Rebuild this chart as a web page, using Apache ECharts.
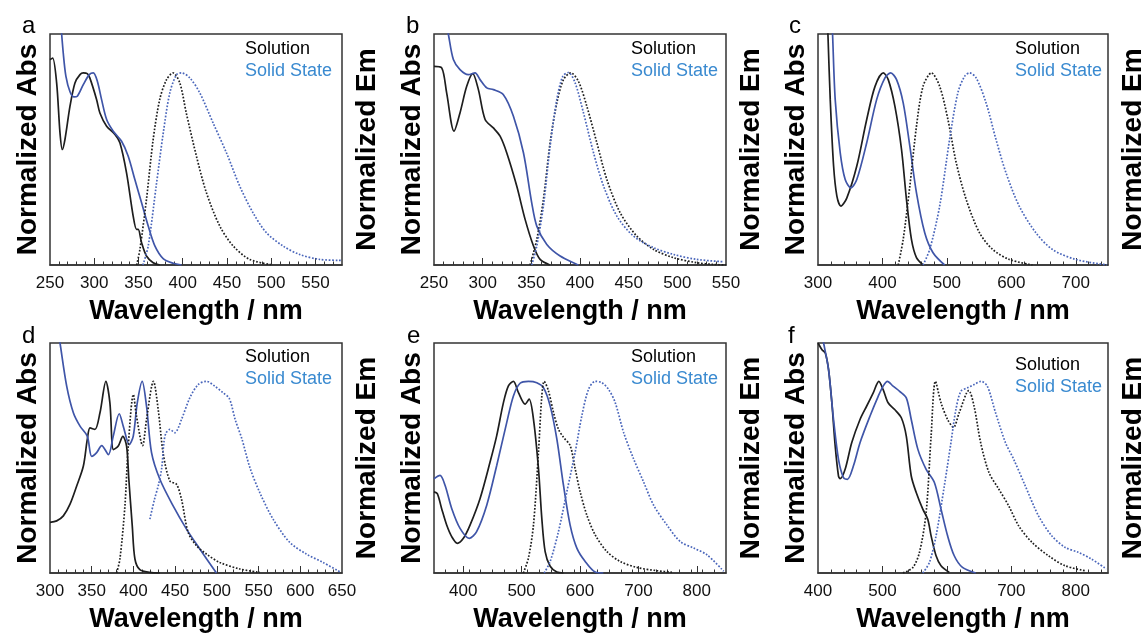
<!DOCTYPE html>
<html><head><meta charset="utf-8">
<script src="https://cdn.jsdelivr.net/npm/echarts@6/dist/echarts.min.js"></script>
<style>html,body{margin:0;padding:0;background:#fff}#c{width:1148px;height:634px}</style>
</head><body><div id="c"></div>
<script>
// ---------- tick labels ----------
const labelsA = [250,300,350,400,450,500,550];
const labelsB = [250,300,350,400,450,500,550];
const labelsC = [300,400,500,600,700];
const labelsD = [300,350,400,450,500,550,600,650];
const labelsE = [400,500,600,700,800];
const labelsF = [400,500,600,700,800];

// ---------- panel a ----------
const aAbsSolution = [[250,1.067],[253,1.075],[257.5,0.946],[261.3,0.686],[263.9,0.60],[266.9,0.652],[272.6,0.825],[278.2,0.946],[283.9,0.989],[287.6,0.998],[292.1,0.994],[295,0.972],[302.7,0.859],[306.4,0.79],[314,0.721],[323.4,0.678],[329,0.635],[336.5,0.479],[344,0.254],[347.8,0.185],[349.7,0.185],[353.5,0.116],[359,0.047],[366.6,0.012],[374,0]];
const aAbsSolid = [[262,1.27],[265,1.10],[268,0.98],[272.6,0.90],[277.1,0.873],[280.9,0.877],[287.6,0.937],[294.4,0.989],[299,0.998],[303.5,0.954],[308.3,0.859],[314,0.756],[321.5,0.695],[330.9,0.643],[338.4,0.565],[345.9,0.444],[353.5,0.323],[361,0.202],[368.5,0.099],[377.9,0.033],[389.2,0.009],[398.6,0]];
const aEmSolution = [[348,0],[351.6,0.081],[359,0.34],[366.6,0.652],[374,0.86],[381.7,0.963],[389,0.998],[396.7,0.946],[404,0.79],[415.5,0.565],[426.8,0.375],[441.9,0.202],[457,0.099],[475.7,0.029],[502,0]];
const aEmSolid = [[355,0],[361,0.099],[370,0.41],[378,0.686],[385.4,0.894],[393,0.989],[398.6,0.998],[408,0.972],[419.3,0.894],[434.3,0.738],[449.4,0.583],[464.4,0.41],[479.5,0.271],[494.5,0.168],[513.3,0.099],[532,0.055],[554.7,0.029],[579,0.024]];

// ---------- panel b ----------
const bAbsSolution = [[250,1.032],[257.9,1.024],[263,0.894],[270.6,0.695],[276.7,0.79],[283.6,0.928],[289.8,0.994],[295.6,0.911],[302.5,0.756],[311,0.712],[317.9,0.669],[324.7,0.583],[335,0.41],[343.6,0.237],[352.2,0.099],[359,0.029],[369,0]];
const bAbsSolid = [[261,1.29],[264.7,1.2],[269.9,1.067],[276.7,1.015],[285.3,0.989],[292.2,0.998],[297.3,0.963],[304.2,0.92],[311,0.911],[321.3,0.885],[331.6,0.773],[341.9,0.583],[350.4,0.323],[355.6,0.202],[365.9,0.107],[379.6,0.047],[398.4,0]];
const bEmSolution = [[348.7,0],[355.6,0.133],[362.4,0.34],[369.3,0.635],[376.2,0.842],[383,0.963],[390.6,0.998],[398.4,0.954],[407,0.825],[417.3,0.635],[427.6,0.444],[441.3,0.271],[458.4,0.15],[475.6,0.081],[496,0.038],[520,0.012],[537,0.003],[550,0]];
const bEmSolid = [[350.4,0],[355.6,0.099],[362.4,0.306],[369.3,0.617],[376.2,0.86],[382.3,0.98],[388.2,1.0],[395,0.946],[403.6,0.79],[413.9,0.583],[424.2,0.41],[437.9,0.254],[455,0.15],[475.6,0.09],[496,0.055],[520,0.029],[547.6,0.017]];

// ---------- panel c ----------
const cAbsSolution = [[313.5,1.4],[315.4,1.2],[319,0.859],[324.2,0.514],[329.3,0.358],[335.5,0.306],[344.8,0.349],[360.2,0.514],[375.6,0.756],[388.5,0.928],[401.3,0.998],[409,0.963],[419.3,0.825],[429.6,0.6],[437.3,0.34],[445,0.133],[452.8,0.038],[463,0]];
const cAbsSolid = [[320.5,1.37],[322.6,1.2],[326.7,0.859],[334.5,0.583],[342.2,0.444],[351,0.401],[360.2,0.444],[375.6,0.635],[391,0.859],[403.9,0.972],[412.7,0.998],[421.9,0.963],[432.2,0.842],[442.5,0.617],[452.8,0.375],[465.6,0.168],[478.5,0.064],[496.5,0]];
const cEmSolution = [[424.5,0],[432.2,0.133],[442.5,0.41],[452.8,0.721],[463,0.928],[476,0.998],[488.8,0.928],[501.6,0.756],[514.5,0.531],[530,0.34],[550.5,0.168],[571,0.081],[596.8,0.029],[632.8,0]];
const cEmSolid = [[463,0],[473.4,0.081],[488.8,0.306],[504.2,0.652],[517,0.894],[527.4,0.98],[535,0.998],[545.4,0.972],[560.8,0.842],[576.2,0.652],[591.7,0.479],[612.2,0.306],[638,0.168],[663.7,0.081],[699.7,0.029],[748.6,0]];

// ---------- panel d ----------
const dAbsSolution = [[300,0.264],[308,0.272],[316,0.298],[324,0.359],[332,0.454],[340,0.558],[344.7,0.697],[348,0.757],[353.9,0.749],[359.9,0.836],[367,1.0],[371.8,0.888],[376,0.644],[381.8,0.662],[387.3,0.713],[391.8,0.662],[394.5,0.488],[398.6,0.246],[401.8,0.073],[407.7,0.017],[419.7,0.003],[431.7,0]];
const dAbsSolid = [[308,1.31],[312,1.2],[320,0.975],[328,0.836],[336,0.766],[344.7,0.714],[350,0.609],[355.9,0.628],[362,0.665],[370,0.618],[375.8,0.714],[383,0.831],[387.8,0.766],[395,0.67],[399.8,0.714],[404.6,0.888],[410.5,1.0],[415.7,0.870],[421.7,0.628],[431.7,0.489],[447.6,0.35],[463.6,0.229],[479.6,0.125],[499.5,0]];
const dEmSolution = [[379.8,0],[383.8,0.073],[389.8,0.35],[393.8,0.662],[399.9,0.931],[403.7,0.818],[411,0.665],[415.7,0.801],[424,1.0],[429.7,0.853],[435.8,0.62],[443.7,0.48],[451.6,0.463],[457.6,0.385],[465.6,0.212],[475.6,0.142],[487.5,0.099],[503.5,0.055],[527.5,0.021],[551.4,0.003]];
const dEmSolid = [[419.7,0.281],[425,0.38],[430,0.46],[434,0.55],[436.5,0.68],[439,0.73],[443.7,0.749],[449.6,0.732],[457.6,0.801],[467.6,0.914],[477.6,0.983],[487.5,1.0],[497.5,0.975],[507.5,0.94],[515,0.91],[522,0.80],[530,0.70],[539.6,0.55],[551.4,0.42],[567.4,0.281],[587.3,0.16],[607.3,0.099],[627.2,0.055],[647.2,0.007]];

// ---------- panel e ----------
const eAbsSolution = [[350,0.423],[355.7,0.414],[363,0.337],[371.7,0.25],[380.3,0.19],[390,0.155],[400.3,0.181],[411.7,0.25],[428.9,0.389],[446,0.579],[457.4,0.717],[468.9,0.889],[477.4,0.976],[486,1.0],[494.6,0.941],[506,0.881],[512.9,0.907],[520.3,0.803],[528.9,0.544],[534.6,0.285],[540.3,0.112],[548.9,0.035],[560.3,0.005],[571.7,0]];
const eAbsSolid = [[350,0.492],[360.3,0.509],[368.9,0.458],[380.3,0.337],[394.6,0.233],[410.6,0.181],[423,0.216],[440.3,0.354],[457.4,0.561],[474.6,0.786],[486,0.924],[497.4,0.99],[511.7,1.0],[526,0.993],[537.4,0.967],[548.9,0.872],[560.3,0.7],[571.7,0.458],[583.1,0.25],[594.6,0.13],[608.9,0.06],[626,0.005],[640,0]];
const eEmSolution = [[503,0],[511.7,0.078],[520.3,0.25],[528.9,0.63],[534.6,0.924],[538.6,1.0],[546,0.95],[554.6,0.838],[563,0.751],[571.7,0.708],[583.1,0.665],[591.7,0.544],[600.3,0.423],[611.7,0.302],[626,0.199],[646,0.112],[668.9,0.06],[697.4,0.029],[731.7,0.012],[760.3,0.003]];
const eEmSolid = [[538.6,0],[548.9,0.06],[563.1,0.216],[577.4,0.423],[591.7,0.63],[603.1,0.82],[614.6,0.958],[626,1.0],[637.4,0.993],[648.9,0.958],[660.3,0.889],[674.6,0.734],[691.7,0.596],[708.9,0.475],[726,0.354],[748.9,0.25],[771.7,0.164],[794.6,0.13],[817.4,0.095],[846,0.009]];

// ---------- panel f ----------
const fAbsSolution = [[400,1.2],[406.2,1.165],[411.3,1.148],[416.4,1.061],[421.5,0.888],[426.7,0.662],[431.8,0.506],[434.4,0.492],[442.1,0.541],[452.3,0.68],[465.2,0.801],[475.4,0.87],[485.7,0.94],[494.4,1.0],[501.1,0.957],[508.8,0.888],[519,0.853],[529.3,0.81],[537,0.714],[544.7,0.506],[552.4,0.42],[562.6,0.333],[570.3,0.281],[575.5,0.194],[583.2,0.09],[590.9,0.038],[603.7,0.003]];
const fAbsSolid = [[404,1.28],[408.7,1.2],[416.4,1.061],[424.1,0.801],[431.8,0.593],[439.5,0.498],[445.7,0.489],[454.9,0.558],[465.2,0.68],[480.6,0.818],[493.4,0.922],[501.1,0.975],[507.7,1.0],[516.5,0.975],[526.7,0.948],[537,0.914],[544.7,0.801],[555,0.645],[567.8,0.541],[580.6,0.472],[590.9,0.333],[601.1,0.194],[611.4,0.09],[624.2,0.029],[644.7,0]];
const fEmSolution = [[531.9,0],[547.3,0.029],[557.5,0.108],[567.8,0.316],[575.5,0.714],[582.2,1.0],[590.9,0.888],[601.1,0.801],[610.2,0.76],[619.1,0.836],[634,0.952],[642.2,0.87],[652.4,0.68],[665.3,0.524],[680.7,0.437],[696,0.35],[711.4,0.246],[732,0.16],[757.6,0.09],[783.3,0.038],[814,0.012]];
const fEmSolid = [[562.6,0],[572.9,0.055],[583.2,0.194],[596,0.454],[606.3,0.68],[614,0.853],[621.7,0.948],[632,0.966],[642.2,0.983],[653,1.0],[662.7,0.975],[675.5,0.836],[690.9,0.68],[703.7,0.593],[721.7,0.454],[742.2,0.298],[762.7,0.194],[783.3,0.134],[803.8,0.108],[824.3,0.073],[847.4,0.021]];

// ---------- layout / styles ----------
const FONT = '"Liberation Sans", Arial, Helvetica, sans-serif';
const BLACK = '#1e1e1e', BLUE = '#3f55a8', BLUE_DOT = '#4a66bb', LEG_BLUE = '#3a8ad0';
const panels = [
  {letter:'a', left:50,  top:34,  width:292, min:250, max:580, step:10, labels:labelsA, data:[aAbsSolution,aAbsSolid,aEmSolution,aEmSolid], legTop:40, legLeft:245, letterX:22, letterY:38},
  {letter:'b', left:434, top:34,  width:292, min:250, max:550, step:10, labels:labelsB, data:[bAbsSolution,bAbsSolid,bEmSolution,bEmSolid], legTop:40, legLeft:631, letterX:406, letterY:38},
  {letter:'c', left:818, top:34,  width:291, min:300, max:750, step:20, labels:labelsC, data:[cAbsSolution,cAbsSolid,cEmSolution,cEmSolid], legTop:40, legLeft:1015, letterX:789, letterY:38},
  {letter:'d', left:50,  top:343, width:292, min:300, max:650, step:10, labels:labelsD, data:[dAbsSolution,dAbsSolid,dEmSolution,dEmSolid], legTop:348, legLeft:245, letterX:22, letterY:348},
  {letter:'e', left:434, top:343, width:292, min:350, max:850, step:20, labels:labelsE, data:[eAbsSolution,eAbsSolid,eEmSolution,eEmSolid], legTop:348, legLeft:631, letterX:407, letterY:348},
  {letter:'f', left:818, top:343, width:292, min:400, max:850, step:20, labels:labelsF, data:[fAbsSolution,fAbsSolid,fEmSolution,fEmSolid], legTop:356, legLeft:1015, letterX:788, letterY:348}
];

const grid = [], xAxis = [], yAxis = [], series = [], graphic = [];
panels.forEach((p, i) => {
  grid.push({left:p.left, top:p.top, width:p.width, height:231, show:true, borderColor:'#333', borderWidth:1.5, backgroundColor:'transparent'});
  const minor = [];
  for (let v = p.min + p.step; v < p.max; v += p.step) if (p.labels.indexOf(v) < 0) minor.push(v);
  const major = p.labels.filter(v => v > p.min && v < p.max);
  // main axis: labels, title, long ticks
  xAxis.push({
    gridIndex:i, type:'value', min:p.min, max:p.max, position:'bottom',
    axisLine:{show:true, lineStyle:{color:'#333', width:1.5}},
    axisTick:{show:true, inside:true, length:7, customValues:major, lineStyle:{color:'#333', width:1}},
    axisLabel:{customValues:p.labels, fontSize:17, color:'#111', margin:10, fontFamily:FONT},
    splitLine:{show:false},
    name:'Wavelength / nm', nameLocation:'middle', nameGap:33,
    nameTextStyle:{fontSize:27, fontWeight:'bold', color:'#000', fontFamily:FONT}
  });
  // companion axis: short minor ticks only
  xAxis.push({
    gridIndex:i, type:'value', min:p.min, max:p.max, position:'bottom', offset:0,
    axisLine:{show:false},
    axisTick:{show:true, inside:true, length:3.5, customValues:minor, lineStyle:{color:'#333', width:1}},
    axisLabel:{show:false}, splitLine:{show:false}
  });
  yAxis.push({
    gridIndex:i, type:'value', min:0, max:1.2, position:'left',
    axisLine:{show:false}, axisTick:{show:false}, axisLabel:{show:false}, splitLine:{show:false},
    name:'Normalized Abs', nameLocation:'middle', nameRotate:90, nameGap:8,
    nameTextStyle:{fontSize:28, fontWeight:'bold', color:'#000', fontFamily:FONT}
  });
  yAxis.push({
    gridIndex:i, type:'value', min:0, max:1.2, position:'right',
    axisLine:{show:false}, axisTick:{show:false}, axisLabel:{show:false}, splitLine:{show:false},
    name:'Normalized Em', nameLocation:'middle', nameRotate:90, nameGap:11,
    nameTextStyle:{fontSize:28, fontWeight:'bold', color:'#000', fontFamily:FONT}
  });
  const styles = [
    {color:BLACK, type:'solid', width:1.7},
    {color:BLUE, type:'solid', width:1.7},
    {color:BLACK, type:'dotted', width:1.7},
    {color:BLUE_DOT, type:'dotted', width:1.7}
  ];
  const names = ['Solution Abs','Solid State Abs','Solution Em','Solid State Em'];
  p.data.forEach((d, k) => {
    series.push({
      type:'line', name:names[k], xAxisIndex:2*i, yAxisIndex:2*i, data:d,
      showSymbol:false, symbol:'none', smooth:0.3, clip:true,
      lineStyle:styles[k], z: k >= 2 ? 3 : 2, silent:true
    });
  });
  graphic.push({type:'text', left:p.legLeft, top:p.legTop, style:{text:'Solution', fill:'#000', font:'18px ' + FONT}});
  graphic.push({type:'text', left:p.legLeft, top:p.legTop + 22, style:{text:'Solid State', fill:LEG_BLUE, font:'18px ' + FONT}});
  graphic.push({type:'text', x:p.letterX, y:p.letterY, style:{text:p.letter, fill:'#000', font:'24px ' + FONT, textVerticalAlign:'bottom'}});
});

const chart = echarts.init(document.getElementById('c'), null, {renderer:'canvas'});
chart.setOption({backgroundColor:'#fff', animation:false, grid, xAxis, yAxis, series, graphic});
</script>
</body></html>
